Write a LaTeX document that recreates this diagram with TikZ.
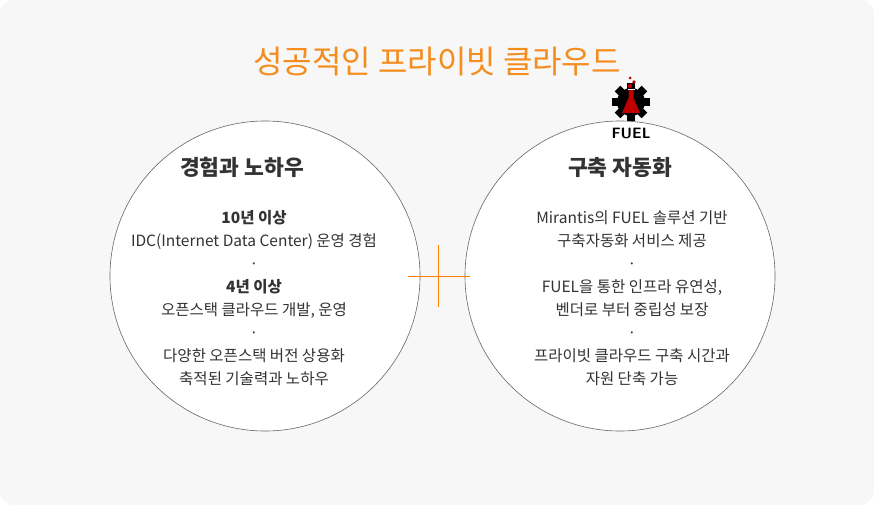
\documentclass[tikz,border=0pt]{standalone}
\usepackage{fontspec}
\setmainfont{Noto Sans CJK KR}
\newfontfamily\lightkr{Noto Sans CJK KR Light}
\begin{document}
\begin{tikzpicture}[x=1pt,y=-1pt,
  circ/.style={draw=gray!80!black,line width=0.6pt,fill=white},
  head/.style={font=\fontsize{21.5}{24}\selectfont\bfseries,text=black!80},
  body/.style={font=\fontsize{15.5}{23}\selectfont,text=black!80,align=center}]
\useasboundingbox (0,0) rectangle (874,505);
\fill[white] (0,0) rectangle (874,505);
\fill[black!3,rounded corners=14pt] (0,0) rectangle (874,505);
\node[font=\fontsize{32}{34}\selectfont,text={rgb,255:red,245;green,140;blue,30}] (title) at (437,62) {성공적인 프라이빗 클라우드};
\draw[circ] (265,276) circle (155);
\draw[circ] (620,276) circle (155);
\coordinate (c) at (438,276);
\draw[orange,line width=1pt] ([xshift=-30pt]c) -- ([xshift=32pt]c) ([yshift=-31pt]c) -- ([yshift=31pt]c);
\node[head] (h1) at (242,167) {경험과 노하우};
\node[head] (h2) at (620,167) {구축 자동화};
\node[body] (b1) at (254,298) {\textbf{10년 이상}\\IDC(Internet Data Center) 운영 경험\\·\\\textbf{4년 이상}\\오픈스택 클라우드 개발, 운영\\·\\다양한 오픈스택 버전 상용화\\축적된 기술력과 노하우};
\node[body] (b2) at (632,298) {Mirantis의 FUEL 솔루션 기반\\구축자동화 서비스 제공\\·\\FUEL을 통한 인프라 유연성,\\벤더로 부터 중립성 보장\\·\\프라이빗 클라우드 구축 시간과\\자원 단축 가능};
% FUEL logo
\begin{scope}[shift={(631,102)}]
\fill[black] (0,0) circle (14);
\foreach \a in {0,45,...,315}
  \fill[black,rotate=\a] (-4,-12) rectangle (4,-19);
\fill[red!75!black] (-2.5,-12) -- (2.5,-12) -- (2.5,-4) -- (9,11) -- (-9,11) -- (-2.5,-4) -- cycle;
\fill[white] (-3.5,-13) rectangle (3.5,-11.5);
\fill[red!75!black] (-1,-16) circle (2.2) (3,-20) circle (1.8) (-1,-24) circle (1.5);
\end{scope}
\node[font=\fontsize{15}{16}\selectfont\bfseries\sffamily] (fuel) at (631,133) {FUEL};
\end{tikzpicture}
\end{document}
